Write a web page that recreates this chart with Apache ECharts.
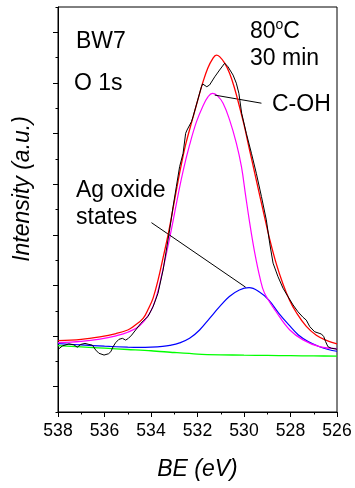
<!DOCTYPE html>
<html>
<head>
<meta charset="utf-8">
<script src="https://cdn.jsdelivr.net/npm/echarts@6/dist/echarts.min.js"></script>
<style>
  html, body { margin: 0; padding: 0; background: #fff; }
  #chart { width: 355px; height: 488px; }
</style>
</head>
<body>
<div id="chart"></div>
<script>
// O 1s spectrum, sample BW7 (80 °C, 30 min): binding energy (eV) vs intensity (a.u.)

// measured spectrum
const measuredBE = [538.00,537.81,537.53,537.31,537.17,537.02,536.84,536.67,536.52,536.38,536.24,536.02,535.83,535.73,535.63,535.52,535.38,535.23,535.09,534.97,534.83,534.66,534.44,534.30,534.13,533.91,533.70,533.48,533.34,533.20,533.05,532.91,532.77,532.62,532.51,532.45,532.26,532.19,531.83,531.78,531.60,531.48,531.26,531.05,530.83,530.69,530.47,530.33,530.22,530.10,529.90,529.68,529.47,529.25,529.04,528.89,528.75,528.54,528.32,528.11,527.89,527.68,527.46,527.32,527.17,526.96,526.77,526.67,526.57,526.49,526.39,526.24,526.00];
const measuredI  = [2.47,2.61,2.69,2.65,2.56,2.67,2.71,2.67,2.64,2.45,2.32,2.25,2.30,2.38,2.58,2.74,2.87,2.91,2.84,2.91,3.04,3.24,3.50,3.63,3.77,4.16,4.69,5.61,6.40,7.19,8.11,8.90,9.69,10.22,11.01,11.14,11.47,11.67,12.85,12.96,12.85,12.92,13.24,13.51,13.78,13.64,13.31,12.99,12.59,11.80,11.01,10.22,9.43,8.51,7.59,6.64,5.88,5.35,4.89,4.56,4.23,3.96,3.74,3.63,3.37,3.17,3.11,3.08,2.98,2.78,2.58,2.52,2.48];

// fitted envelope
const envelopeBE = [538.00,537.00,536.20,535.50,535.00,534.77,534.34,534.10,533.91,533.70,533.48,533.26,533.05,532.84,532.69,532.50,532.19,531.95,531.76,531.55,531.35,531.19,531.05,530.83,530.62,530.41,530.19,530.00,529.76,529.54,529.33,529.11,528.92,528.61,528.32,528.04,527.75,527.32,526.89,526.46,526.00];
const envelopeI  = [2.82,2.87,2.97,3.10,3.24,3.37,3.70,4.10,4.50,5.20,6.10,7.03,8.05,9.10,9.80,10.60,11.65,12.45,13.05,13.60,13.95,14.10,14.04,13.78,13.38,12.80,12.05,11.35,10.35,9.45,8.58,7.68,6.92,5.85,5.05,4.42,3.93,3.38,3.03,2.83,2.69];

// C-OH component
const cohBE = [538.00,537.00,536.20,535.50,535.00,534.50,534.06,533.77,533.48,533.27,533.05,532.84,532.62,532.34,532.05,531.76,531.55,531.36,531.15,530.90,530.62,530.33,530.11,529.93,529.76,529.55,529.30,529.12,528.61,528.04,527.46,526.75,526.00];
const cohI  = [2.74,2.79,2.88,3.01,3.15,3.40,3.90,4.55,5.65,6.55,7.55,8.55,9.52,10.55,11.45,12.10,12.45,12.59,12.50,12.20,11.54,10.62,9.69,8.55,7.50,6.35,5.25,4.70,3.95,3.25,2.85,2.58,2.50];

// Ag oxide component
const oxideBE = [538.00,537.00,536.00,535.00,534.50,534.00,533.50,533.19,532.77,532.34,531.91,531.48,531.05,530.63,530.20,529.78,529.35,528.93,528.50,528.07,527.66,527.24,526.81,526.38,526.00];
const oxideI  = [2.70,2.65,2.60,2.56,2.55,2.56,2.59,2.63,2.73,2.91,3.24,3.70,4.16,4.56,4.82,4.91,4.75,4.42,3.90,3.44,3.04,2.78,2.60,2.47,2.40];

// background
const backgroundBE = [538,537,536,535,534,533,532,531,530,529,528,527,526];
const backgroundI  = [2.62,2.57,2.52,2.47,2.42,2.35,2.29,2.26,2.245,2.235,2.225,2.215,2.21];

// annotation arrows: [from BE, from I, to BE, to I]
const cohArrow   = [529.25, 12.20, 531.26, 12.52];
const oxideArrow = [533.98, 7.48, 529.93, 4.93];

const FONT = '"Liberation Sans", Arial, sans-serif';
const pairs = (xs, ys) => xs.map((x, i) => [x, ys[i]]);

function curve(name, xs, ys, color, width, smooth, z) {
  return {
    name, type: 'line', data: pairs(xs, ys), showSymbol: false, symbol: 'none',
    smooth, z, lineStyle: { color, width }, silent: true
  };
}

const chart = echarts.init(document.getElementById('chart'), null, { renderer: 'canvas' });

const arrowSeries = curve('arrows', [], [], '#000', 1, false, 10);
arrowSeries.markLine = {
  silent: true,
  symbol: ['none', 'arrow'],
  symbolSize: [0, 9],
  label: { show: false },
  lineStyle: { color: '#000', width: 1, type: 'solid' },
  emphasis: { disabled: true },
  data: [
    [{ coord: [cohArrow[0], cohArrow[1]] }, { coord: [cohArrow[2], cohArrow[3]] }],
    [{ coord: [oxideArrow[0], oxideArrow[1]] }, { coord: [oxideArrow[2], oxideArrow[3]] }]
  ]
};

chart.setOption({
  animation: false,
  backgroundColor: '#fff',
  grid: {
    left: 58, right: 18, top: 7, bottom: 76,
    show: true, borderColor: '#000', borderWidth: 1, backgroundColor: 'transparent'
  },
  xAxis: {
    type: 'value', min: 526, max: 538, interval: 2, inverse: true,
    axisLine: { show: true, lineStyle: { color: '#000', width: 1 } },
    axisTick: { show: true, inside: false, length: 5, lineStyle: { color: '#000', width: 1 } },
    minorTick: { show: true, splitNumber: 2, length: 2.5, lineStyle: { color: '#000', width: 1 } },
    axisLabel: { color: '#000', fontSize: 17.6, fontFamily: FONT, margin: 10 },
    splitLine: { show: false },
    name: 'BE (eV)', nameLocation: 'middle', nameGap: 46,
    nameTextStyle: { color: '#000', fontSize: 23, fontStyle: 'italic', fontFamily: FONT }
  },
  yAxis: {
    type: 'value', min: 0, max: 16, interval: 2,
    axisLine: { show: true, lineStyle: { color: '#000', width: 1 } },
    axisTick: { show: true, inside: false, length: 2.5, lineStyle: { color: '#000', width: 1 } },
    minorTick: { show: true, splitNumber: 2, length: 5, lineStyle: { color: '#000', width: 1 } },
    axisLabel: { show: false },
    splitLine: { show: false }
  },
  graphic: [
    { type: 'text', x: 23, y: 189, rotation: Math.PI / 2,
      style: { text: 'Intensity (a.u.)', fill: '#000', font: 'italic 23px ' + FONT, textAlign: 'center', textVerticalAlign: 'middle' } },
    { type: 'text', x: 76, y: 42,
      style: { text: 'BW7', fill: '#000', font: '23px ' + FONT, textAlign: 'left', textVerticalAlign: 'middle' } },
    { type: 'text', x: 74, y: 83.5,
      style: { text: 'O 1s', fill: '#000', font: '23px ' + FONT, textAlign: 'left', textVerticalAlign: 'middle' } },
    { type: 'text', x: 250, y: 31.5,
      style: { text: '80{sup|o}C', fill: '#000', font: '23px ' + FONT, textAlign: 'left', textVerticalAlign: 'middle',
        rich: { sup: { fontSize: 14, fontFamily: FONT, padding: [0, 0, 12, 0], verticalAlign: 'top' } } } },
    { type: 'text', x: 250, y: 58.5,
      style: { text: '30 min', fill: '#000', font: '23px ' + FONT, textAlign: 'left', textVerticalAlign: 'middle' } },
    { type: 'text', x: 272, y: 105,
      style: { text: 'C-OH', fill: '#000', font: '23px ' + FONT, textAlign: 'left', textVerticalAlign: 'middle' } },
    { type: 'text', x: 76, y: 191,
      style: { text: 'Ag oxide', fill: '#000', font: '23px ' + FONT, textAlign: 'left', textVerticalAlign: 'middle' } },
    { type: 'text', x: 76, y: 218,
      style: { text: 'states', fill: '#000', font: '23px ' + FONT, textAlign: 'left', textVerticalAlign: 'middle' } }
  ],
  series: [
    curve('background', backgroundBE, backgroundI, '#00ff00', 1.3, 0.3, 2),
    curve('Ag oxide', oxideBE, oxideI, '#0000ff', 1.2, 0.4, 3),
    curve('C-OH', cohBE, cohI, '#ff00ff', 1.2, 0.4, 4),
    curve('envelope', envelopeBE, envelopeI, '#ff0000', 1.3, 0.4, 5),
    curve('measured', measuredBE, measuredI, '#000000', 1, false, 6),
    arrowSeries
  ]
});
</script>
</body>
</html>
